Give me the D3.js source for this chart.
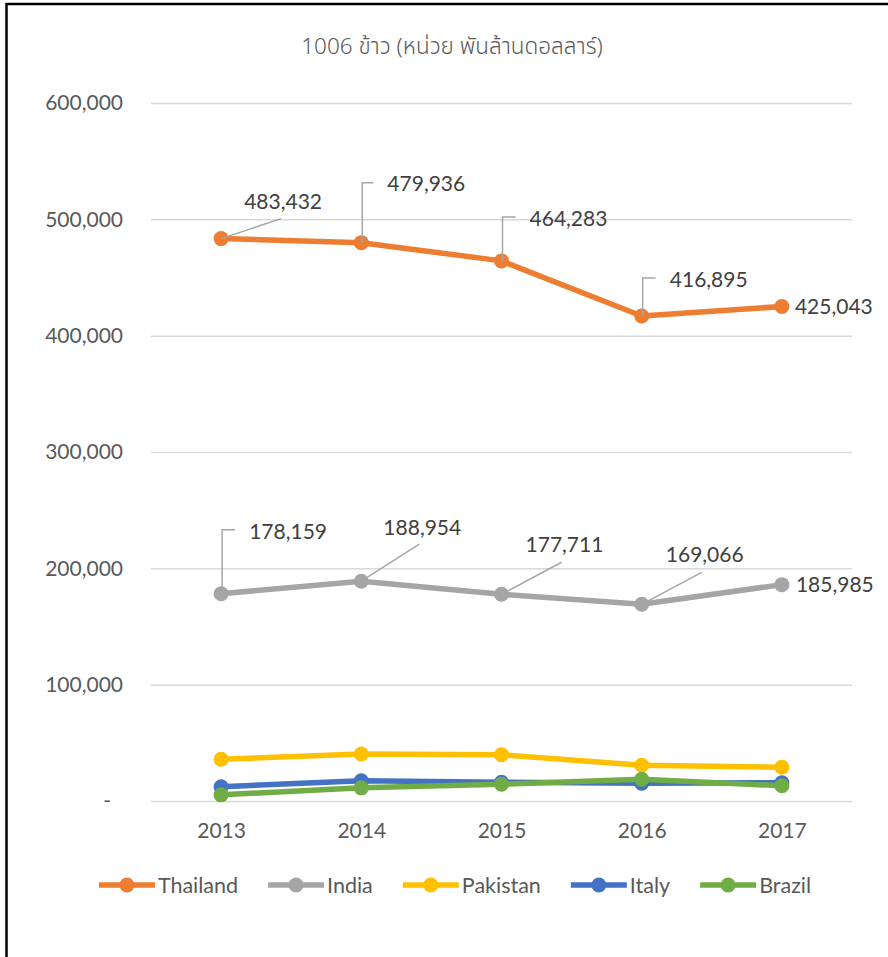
<!DOCTYPE html>
<html>
<head>
<meta charset="utf-8">
<script src="https://cdn.jsdelivr.net/npm/d3@7"></script>
<style>
  html, body { margin: 0; padding: 0; background: #fff; }
  svg { display: block; }
  .lbl { font-family: Lato, "Open Sans", sans-serif; }
</style>
</head>
<body>
<svg id="chart" width="888" height="957"></svg>
<script>
// Rice (HS 1006) export values by country, 2013-2017
const years = ["2013", "2014", "2015", "2016", "2017"];
const thailand = [483432, 479936, 464283, 416895, 425043];
const india = [178159, 188954, 177711, 169066, 185985];
const pakistan = [35900, 40400, 39800, 30700, 29000];
const italy = [12300, 17400, 16100, 15200, 15700];
const brazil = [5300, 11300, 14400, 18700, 13100];
const yTicks = [0, 100000, 200000, 300000, 400000, 500000, 600000];
const titleText = "1006 ข้าว (หน่วย พันล้านดอลลาร์)";

const seriesNames = ["Thailand", "India", "Pakistan", "Italy", "Brazil"];
const seriesValues = [thailand, india, pakistan, italy, brazil];
const seriesColors = ["#ED7D31", "#A5A5A5", "#FFC000", "#4472C4", "#70AD47"];

// Data-label placement: label centre offset from the point, plus leader shape
// kind: "elbow" = up then right, "diag" = straight line, "right" = beside the point
const labelLayout = {
  Thailand: [
    { kind: "diag",  dx: 62, dy: -37, lx: 60, ly: -20 },
    { kind: "elbow", dx: 65, dy: -59, lx: 1,  ly: -60, tx: 12 },
    { kind: "elbow", dx: 67, dy: -42, lx: 1,  ly: -44, tx: 14 },
    { kind: "elbow", dx: 67, dy: -37, lx: 1,  ly: -38, tx: 14 },
    { kind: "right", dx: 13, dy: 0 }
  ],
  India: [
    { kind: "elbow", dx: 67, dy: -62, lx: 1,  ly: -64, tx: 14 },
    { kind: "diag",  dx: 61, dy: -54, lx: 58, ly: -37 },
    { kind: "diag",  dx: 63, dy: -50, lx: 60, ly: -32 },
    { kind: "diag",  dx: 63, dy: -50, lx: 60, ly: -32 },
    { kind: "right", dx: 14, dy: 0 }
  ]
};

const svg = d3.select("#chart");
const margin = { left: 151, right: 852, top: 103, bottom: 801 };

// Outer frame (top and left edges)
svg.append("line").attr("x1", 6).attr("x2", 888).attr("y1", 4).attr("y2", 4)
  .attr("stroke", "#000").attr("stroke-width", 2.5);
svg.append("line").attr("x1", 6.5).attr("x2", 6.5).attr("y1", 3).attr("y2", 957)
  .attr("stroke", "#000").attr("stroke-width", 2.5);

const x = d3.scalePoint().domain(years).range([margin.left, margin.right]).padding(0.5);
const y = d3.scaleLinear().domain([0, 600000]).range([margin.bottom, margin.top]);

// Title
svg.append("text")
  .attr("x", 452).attr("y", 54)
  .attr("text-anchor", "middle")
  .attr("fill", "#595959")
  .style("font-family", "'Noto Sans Thai', Tahoma, 'DejaVu Sans', sans-serif")
  .style("font-size", "22.5px")
  .style("font-weight", 300)
  .text(titleText);

// Gridlines + y labels
const yAxis = d3.axisLeft(y)
  .tickValues(yTicks)
  .tickSize(-(margin.right - margin.left))
  .tickPadding(28)
  .tickFormat(d => d === 0 ? "-" : d3.format(",")(d));

const gY = svg.append("g").attr("transform", `translate(${margin.left},0)`).call(yAxis);
gY.select(".domain").remove();
gY.selectAll(".tick line").attr("stroke", "#D9D9D9").attr("stroke-width", 1.5);
gY.selectAll(".tick text")
  .attr("class", "lbl")
  .attr("fill", "#595959")
  .style("font-size", "21px")
  .attr("dx", d => d === 0 ? -12 : 0);

// x labels
const xAxis = d3.axisBottom(x).tickSize(0).tickPadding(22);
const gX = svg.append("g").attr("transform", `translate(0,${margin.bottom})`).call(xAxis);
gX.select(".domain").remove();
gX.selectAll(".tick text")
  .attr("class", "lbl")
  .attr("fill", "#595959")
  .style("font-size", "21px");

// Series lines and markers
const line = d3.line().x((d, i) => x(years[i])).y(d => y(d));

seriesNames.forEach((name, s) => {
  const vals = seriesValues[s];
  const g = svg.append("g");
  g.append("path")
    .datum(vals)
    .attr("d", line)
    .attr("fill", "none")
    .attr("stroke", seriesColors[s])
    .attr("stroke-width", 5.5)
    .attr("stroke-linejoin", "round")
    .attr("stroke-linecap", "round");
  g.selectAll("circle")
    .data(vals)
    .join("circle")
    .attr("cx", (d, i) => x(years[i]))
    .attr("cy", d => y(d))
    .attr("r", 7.5)
    .attr("fill", seriesColors[s]);
});

// Data labels with leader lines
Object.keys(labelLayout).forEach(name => {
  const vals = seriesValues[seriesNames.indexOf(name)];
  const g = svg.append("g");
  labelLayout[name].forEach((lay, i) => {
    const px = x(years[i]);
    const py = y(vals[i]);
    if (lay.kind === "diag") {
      g.append("line")
        .attr("x1", px).attr("y1", py)
        .attr("x2", px + lay.lx).attr("y2", py + lay.ly)
        .attr("stroke", "#A6A6A6").attr("stroke-width", 1.5);
    } else if (lay.kind === "elbow") {
      g.append("path")
        .attr("d", `M${px + lay.lx},${py} V${py + lay.ly} H${px + lay.tx}`)
        .attr("fill", "none")
        .attr("stroke", "#A6A6A6").attr("stroke-width", 1.5);
    }
    g.append("text")
      .attr("class", "lbl")
      .attr("x", px + lay.dx)
      .attr("y", py + lay.dy)
      .attr("dy", "0.36em")
      .attr("text-anchor", lay.kind === "right" ? "start" : "middle")
      .attr("fill", "#404040")
      .style("font-size", "21px")
      .text(d3.format(",")(vals[i]));
  });
});

// Legend
const legend = svg.append("g").attr("transform", "translate(0,885)");
const items = legend.selectAll("g.item")
  .data(seriesNames)
  .join("g")
  .attr("class", "item");

items.append("line")
  .attr("x1", 0).attr("x2", 56).attr("y1", 0).attr("y2", 0)
  .attr("stroke", (d, i) => seriesColors[i])
  .attr("stroke-width", 5.5);
items.append("circle")
  .attr("cx", 28).attr("cy", 0).attr("r", 7.5)
  .attr("fill", (d, i) => seriesColors[i]);
items.append("text")
  .attr("class", "lbl")
  .attr("x", 59).attr("y", 0).attr("dy", "0.36em")
  .attr("fill", "#595959")
  .style("font-size", "21.5px")
  .text(d => d);

const itemGap = 30;
let offsets = [];
let cursor = 0;
items.each(function () {
  const w = 59 + d3.select(this).select("text").node().getComputedTextLength();
  offsets.push(cursor);
  cursor += w + itemGap;
});
const totalW = cursor - itemGap;
const startX = 455 - totalW / 2;
items.attr("transform", (d, i) => `translate(${startX + offsets[i]},0)`);
</script>
</body>
</html>
